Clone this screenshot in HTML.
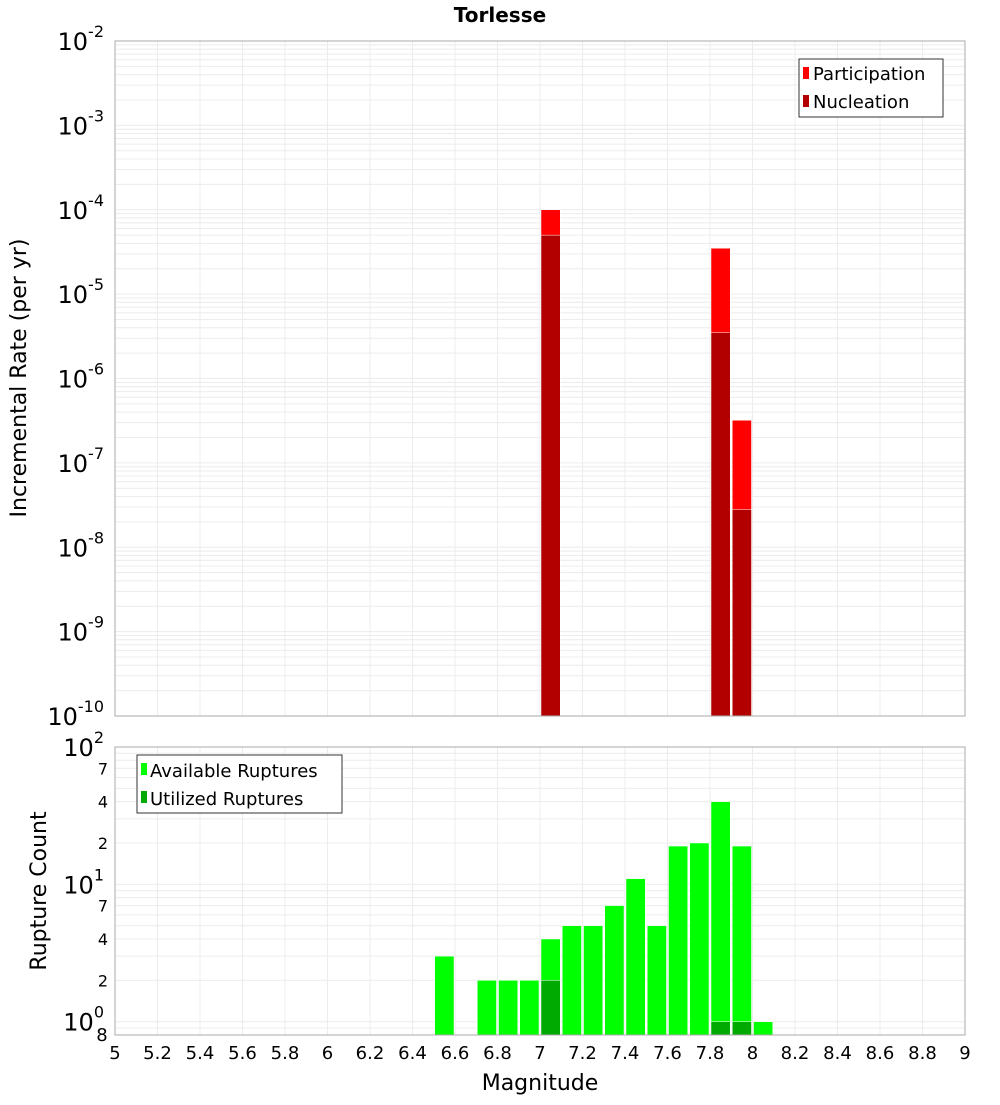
<!DOCTYPE html>
<html><head><meta charset="utf-8"><style>
body{margin:0;background:#fff;}
text{font-family:"DejaVu Sans","Liberation Sans",sans-serif;}
</style></head><body>
<svg id="c" width="1000" height="1100" xmlns="http://www.w3.org/2000/svg">
<rect width="1000" height="1100" fill="#fff"/>
<text x="500" y="22" font-size="20" font-weight="bold" text-anchor="middle">Torlesse</text>
<g id="topg"></g><g id="botg"></g><g id="frames"></g><g id="labels"></g>
<text transform="translate(26,378) rotate(-90)" font-size="22" text-anchor="middle">Incremental Rate (per yr)</text>
<text transform="translate(46,891) rotate(-90)" font-size="22" text-anchor="middle">Rupture Count</text>
<text x="540" y="1090" font-size="22" text-anchor="middle">Magnitude</text>
<g>
<rect x="799" y="59" width="144" height="58" fill="#fff" stroke="#333"/>
<rect x="803" y="67" width="6" height="12" fill="#ff0000"/>
<text x="813" y="80" font-size="18">Participation</text>
<rect x="803" y="95" width="6" height="12" fill="#b20000"/>
<text x="813" y="108" font-size="18">Nucleation</text>
</g>
<g>
<rect x="137" y="755" width="205" height="58" fill="#fff" stroke="#333"/>
<rect x="141" y="763" width="6" height="12" fill="#00ff00"/>
<text x="150" y="777" font-size="18">Available Ruptures</text>
<rect x="141" y="791" width="6" height="12" fill="#00aa00"/>
<text x="150" y="805" font-size="18">Utilized Ruptures</text>
</g>
</svg>
<script>
const binStarts=[7.0,7.8,7.9];
const participation=[1.0e-4,3.5e-5,3.2e-7];
const nucleation=[5.0e-5,3.5e-6,2.8e-8];
const availBins=[6.5,6.7,6.8,6.9,7.0,7.1,7.2,7.3,7.4,7.5,7.6,7.7,7.8,7.9,8.0];
const availCounts=[3,2,2,2,4,5,5,7,11,5,19,20,40,19,1];
const utilBins=[7.0,7.8,7.9];
const utilCounts=[2,1,1];
const xTicks=[5,5.2,5.4,5.6,5.8,6,6.2,6.4,6.6,6.8,7,7.2,7.4,7.6,7.8,8,8.2,8.4,8.6,8.8,9];
const topExps=[-2,-3,-4,-5,-6,-7,-8,-9,-10];
const botLabels=[[100,"10","2"],[70,"7",""],[40,"4",""],[20,"2",""],[10,"10","1"],[7,"7",""],[4,"4",""],[2,"2",""],[1,"10","0"]];
const NS="http://www.w3.org/2000/svg";
const PL=115,PR=965;
const X=m=>PL+(m-5)/4*(PR-PL);
const T0=41,T1=716,B0=747,B1=1035;
const Yt=v=>T0+(-2-Math.log10(v))/8*(T1-T0);
const Yb=v=>B0+(2-Math.log10(v))/(2-Math.log10(0.8))*(B1-B0);
function el(p,t,a){const e=document.createElementNS(NS,t);for(const k in a)e.setAttribute(k,a[k]);p.appendChild(e);return e;}
const topG=document.getElementById('topg'),botG=document.getElementById('botg');
const frG=document.getElementById('frames'),lbG=document.getElementById('labels');
function grid(g,y0,y1,yf,minV,maxV){
  for(let d=Math.floor(Math.log10(minV));d<Math.log10(maxV);d++)for(let k=1;k<10;k++){const v=k*Math.pow(10,d);if(v<minV||v>maxV)continue;const y=yf(v);
    const l=el(g,'line',{x1:PL,x2:PR,y1:y,y2:y,stroke:'#ececec','stroke-width':1});
    
    }
  xTicks.forEach(t=>{const x=X(t);const l=el(g,'line',{x1:x,x2:x,y1:y0,y2:y1,stroke:'#ececec'});
    
    });
}
grid(topG,T0,T1,Yt,1e-10,1e-2);
grid(botG,B0,B1,Yb,0.8,100);
function bar(g,m,v,yf,yb,fill,name){const x=X(m)+1,w=X(m+0.1)-X(m)-2,y=yf(v);
  const r=el(g,'rect',{x:x,y:y,width:w,height:yb-y,fill:fill,stroke:'#ffffff','stroke-width':0.5});
  
  }
binStarts.forEach((m,i)=>bar(topG,m,participation[i],Yt,T1,'#ff0000','participation-bar'));
binStarts.forEach((m,i)=>bar(topG,m,nucleation[i],Yt,T1,'#b20000','nucleation-bar'));
availBins.forEach((m,i)=>bar(botG,m,availCounts[i],Yb,B1,'#00ff00','available-bar'));
utilBins.forEach((m,i)=>bar(botG,m,utilCounts[i],Yb,B1,'#00aa00','utilized-bar'));
[[T0,T1],[B0,B1]].forEach(([a,b])=>{const r=el(frG,'rect',{x:PL,y:a,width:PR-PL,height:b-a,fill:'none',stroke:'#aaa'});
  
  });
topExps.forEach(e=>{const y=Yt(Math.pow(10,e));const t=el(lbG,'text',{x:104,y:y+9,'font-size':24,'text-anchor':'end'});
  
  
  t.textContent='10';const s=el(t,'tspan',{dy:-13,'font-size':16});s.textContent=String(e);});
botLabels.forEach(([v,b,sup])=>{const y=Yb(v);const big=sup!=='';
  const t=el(lbG,'text',{x:big?104:108,y:y+(big?9:6),'font-size':big?24:16,'text-anchor':'end'});
  
  
  t.textContent=b;if(big){const s=el(t,'tspan',{dy:-13,'font-size':16});s.textContent=sup;}});
{const t=el(lbG,'text',{x:102,y:1041,'font-size':18,'text-anchor':'middle'});


t.textContent='8';}
xTicks.forEach(m=>{const t=el(lbG,'text',{x:X(m),y:1059,'font-size':18,'text-anchor':'middle'});
  
  
  t.textContent=String(m);});
</script>
</body></html>
